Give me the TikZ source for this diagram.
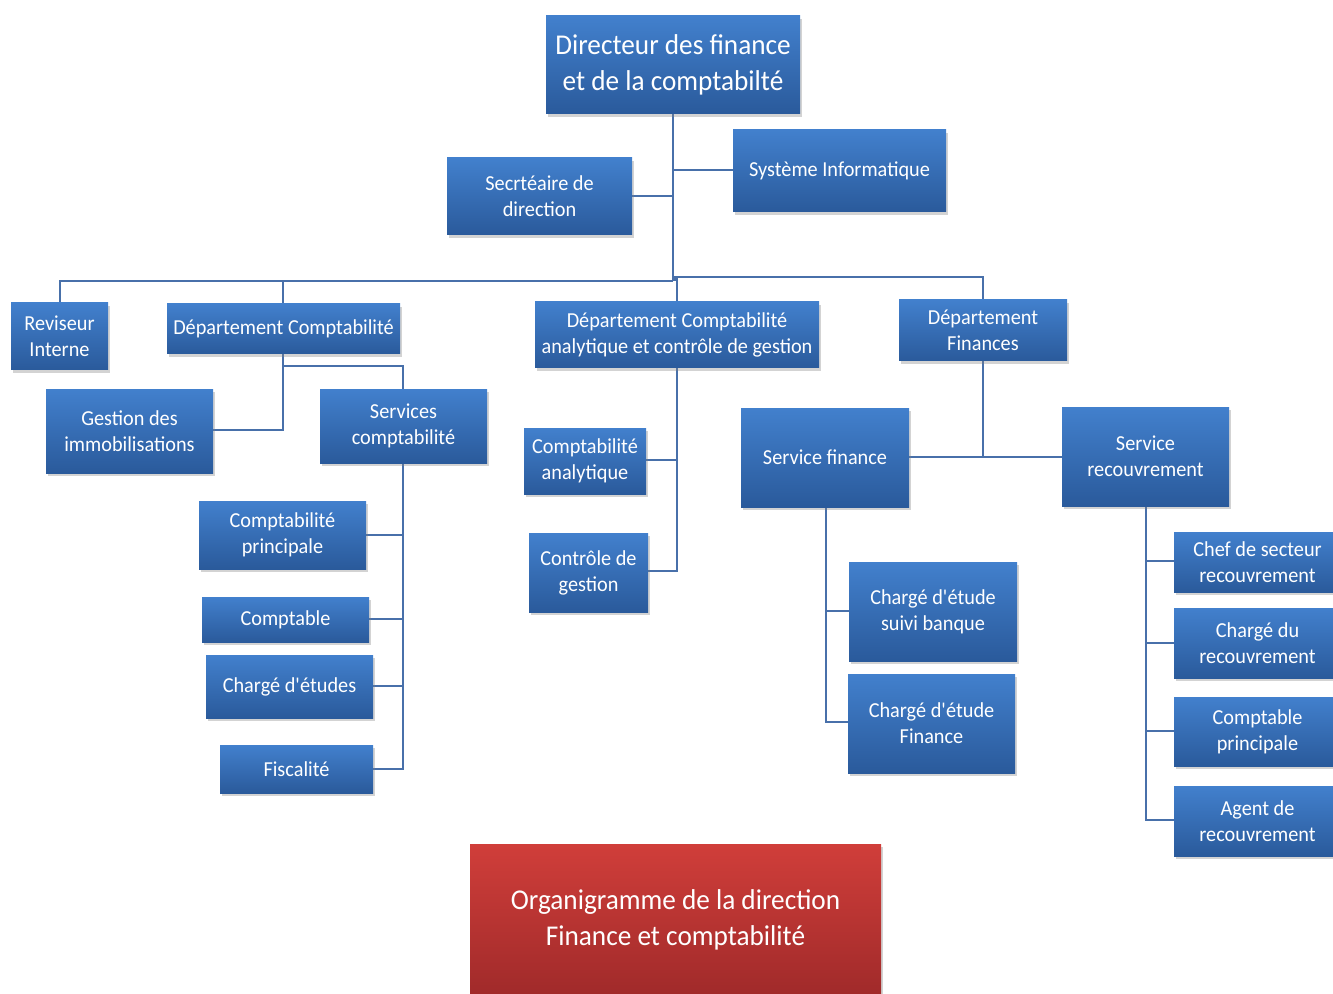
\documentclass[tikz,border=0pt]{standalone}
\usepackage{fontspec}
\setmainfont{Carlito}[FakeStretch=0.95]
\usetikzlibrary{fit,shadows}
\definecolor{btop}{RGB}{66,128,205}
\definecolor{bbot}{RGB}{42,90,155}
\definecolor{rtop}{RGB}{208,62,58}
\definecolor{rbot}{RGB}{160,42,42}
\definecolor{lnc}{RGB}{72,112,170}
\tikzset{
  bxs/.style={inner sep=0pt, draw=none, top color=btop, bottom color=bbot,
    drop shadow={opacity=0.35, shadow xshift=1.5pt, shadow yshift=-2pt}},
  bxt/.style={inner sep=0pt, text=white, align=center, font=\fontsize{16}{19.5}\selectfont},
  big/.style={font=\fontsize{21.5}{26.5}\selectfont},
  redbx/.style={top color=rtop, bottom color=rbot},
  ln/.style={draw=lnc, line width=1.2pt}
}
\newcommand{\Bx}[8][]{\node[bxs,#1, fit={(#4,#5)(#6,#7)}] (#3) {}; \node[bxt,#2] at (#3.center) {#8};}
\newcommand{\q}{\textquotesingle}
\begin{document}
\begin{tikzpicture}[x=0.75pt,y=-0.75pt]
\useasboundingbox (0,0) rectangle (1333,994);
\clip (0,0) rectangle (1333,994);
% connectors
\draw[ln] (673,114) -- (673,281);
\draw[ln] (673,196) -- (632,196);
\draw[ln] (673,170) -- (733,170);
\draw[ln] (60,303) -- (60,281) -- (673,281);
\draw[ln] (283,304) -- (283,281);
\draw[ln] (675,281) -- (675,277) -- (983,277) -- (983,300);
\draw[ln] (677,277) -- (677,302);
\draw[ln] (283,354) -- (283,430) -- (213,430);
\draw[ln] (283,366) -- (403,366) -- (403,389);
\draw[ln] (403,463) -- (403,769) -- (373,769);
\draw[ln] (403,535) -- (366,535);
\draw[ln] (403,619) -- (369,619);
\draw[ln] (403,686) -- (373,686);
\draw[ln] (677,368) -- (677,571) -- (648,571);
\draw[ln] (677,460) -- (646,460);
\draw[ln] (983,361) -- (983,457);
\draw[ln] (909,457) -- (1062,457);
\draw[ln] (826,507) -- (826,722) -- (848,722);
\draw[ln] (826,611) -- (849,611);
\draw[ln] (1146,506) -- (1146,820) -- (1174,820);
\draw[ln] (1146,561) -- (1174,561);
\draw[ln] (1146,643) -- (1174,643);
\draw[ln] (1146,731) -- (1174,731);
% boxes
\Bx{big}{dir}{546}{16}{800}{114}{Directeur des finance\\et de la comptabilté}
\Bx{}{sec}{447}{158}{632}{235}{Secrtéaire de\\direction}
\Bx{}{sys}{733}{130}{946}{212}{Système Informatique}
\Bx{}{rev}{11}{303}{108}{370}{Reviseur\\Interne}
\Bx{}{dc}{167}{304}{400}{354}{Département Comptabilité}
\Bx{}{dca}{535}{302}{819}{368}{Département Comptabilité\\analytique et contrôle de gestion}
\Bx{}{df}{899}{300}{1067}{361}{Département\\Finances}
\Bx{}{gi}{46}{389}{213}{473}{Gestion des\\immobilisations}
\Bx{}{sc}{320}{389}{487}{463}{Services\\comptabilité}
\Bx{}{cp}{199}{501}{366}{569}{Comptabilité\\principale}
\Bx{}{cpt}{202}{597}{369}{642}{Comptable}
\Bx{}{ce}{206}{655}{373}{718}{Chargé d\q études}
\Bx{}{fis}{220}{745}{373}{793}{Fiscalité}
\Bx{}{ca}{524}{428}{646}{494}{Comptabilité\\analytique}
\Bx{}{cg}{529}{533}{648}{612}{Contrôle de\\gestion}
\Bx{}{sf}{741}{408}{909}{507}{Service finance}
\Bx{}{sr}{1062}{407}{1229}{506}{Service\\recouvrement}
\Bx{}{csb}{849}{562}{1017}{661}{Chargé d\q étude\\suivi banque}
\Bx{}{cef}{848}{674}{1015}{773}{Chargé d\q étude\\Finance}
\Bx{}{chef}{1174}{532}{1341}{592}{Chef de secteur\\recouvrement}
\Bx{}{cdr}{1174}{608}{1341}{678}{Chargé du\\recouvrement}
\Bx{}{cpr}{1174}{697}{1341}{766}{Comptable\\principale}
\Bx{}{agr}{1174}{786}{1341}{856}{Agent de\\recouvrement}
\Bx[redbx]{big}{title}{470}{844}{881}{996}{Organigramme de la direction\\Finance et comptabilité}
\end{tikzpicture}
\end{document}
